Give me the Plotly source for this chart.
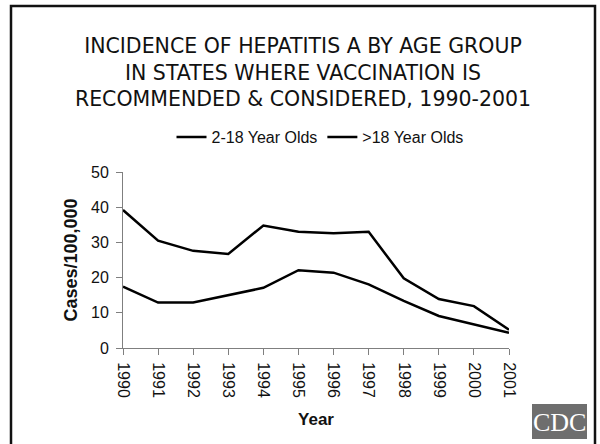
import plotly.graph_objects as go

years = [1990, 1991, 1992, 1993, 1994, 1995, 1996, 1997, 1998, 1999, 2000, 2001]
rate_2_18 = [39.2, 30.5, 27.6, 26.7, 34.8, 33.0, 32.6, 33.0, 19.8, 13.9, 11.9, 5.2]
rate_over_18 = [17.4, 12.9, 12.9, 15.0, 17.1, 22.1, 21.4, 18.1, 13.4, 9.1, 6.7, 4.3]
series_names = ["2-18 Year Olds", ">18 Year Olds"]
y_ticks = [0, 10, 20, 30, 40, 50]

title_text = ("INCIDENCE OF HEPATITIS A BY AGE GROUP<br>"
              "IN STATES WHERE VACCINATION IS<br>"
              "RECOMMENDED &amp; CONSIDERED, 1990-2001")

W, H = 600, 444
L, R, T, B = 123, 91, 172, 96
pw, ph = W - L - R, H - T - B


def px_x(px):
    return (px - L) / pw


def px_y(py):
    return (H - B - py) / ph


SANS = "Liberation Sans, Arial, sans-serif"

fig = go.Figure()
fig.add_trace(go.Scatter(x=years, y=rate_2_18, mode="lines", name=series_names[0],
                         line=dict(color="black", width=2.5)))
fig.add_trace(go.Scatter(x=years, y=rate_over_18, mode="lines", name=series_names[1],
                         line=dict(color="black", width=2.5)))

fig.update_layout(
    width=W, height=H,
    margin=dict(l=L, r=R, t=T, b=B, pad=0),
    paper_bgcolor="white", plot_bgcolor="white",
    title=dict(text=title_text, x=0.505, xanchor="center", xref="container",
               y=1 - 53 / H, yanchor="middle", yref="container",
               font=dict(family="DejaVu Sans", size=20.5, color="#111111")),
    legend=dict(orientation="h", x=px_x(320), xanchor="center", y=px_y(137), yanchor="middle",
                font=dict(family=SANS, size=16, color="#111111"),
                bgcolor="rgba(0,0,0,0)", itemwidth=30, tracegroupgap=0),
    showlegend=True,
)

fig.update_xaxes(
    range=[1990, 2001], tickvals=years, ticktext=[str(y) for y in years],
    tickangle=90, ticks="outside", ticklen=6, tickcolor="#7f7f7f",
    showline=True, linecolor="#7f7f7f", linewidth=1, showgrid=False, zeroline=False,
    ticklabelstandoff=4,
    tickfont=dict(family=SANS, size=16, color="#111111"),
    title=dict(text="<b>Year</b>", font=dict(family=SANS, size=17, color="#111111"), standoff=16),
)
fig.update_yaxes(
    range=[0, 50], tickvals=y_ticks, ticks="outside", ticklen=6, tickcolor="#7f7f7f",
    showline=True, linecolor="#7f7f7f", linewidth=1, showgrid=False, zeroline=False,
    ticklabelstandoff=4,
    tickfont=dict(family=SANS, size=16, color="#111111"),
    title=dict(text="<b>Cases/100,000</b>", font=dict(family=SANS, size=18, color="#111111"), standoff=8),
)

# slide frame (left, top, right edges)
fig.add_shape(type="path", xref="paper", yref="paper",
              path=f"M {px_x(11)},{px_y(450)} L {px_x(11)},{px_y(6)} L {px_x(595)},{px_y(6)} L {px_x(595)},{px_y(450)}",
              line=dict(color="#111111", width=2.5))

# CDC logo
fig.add_shape(type="rect", xref="paper", yref="paper",
              x0=px_x(532), x1=px_x(587), y0=px_y(439), y1=px_y(404),
              fillcolor="#6e6e6e", line=dict(width=0))
fig.add_annotation(text="CDC", xref="paper", yref="paper", x=px_x(559.5), y=px_y(422),
                   showarrow=False, xanchor="center", yanchor="middle",
                   font=dict(family="Liberation Serif", size=26, color="white"))

fig.write_html("out.html")
